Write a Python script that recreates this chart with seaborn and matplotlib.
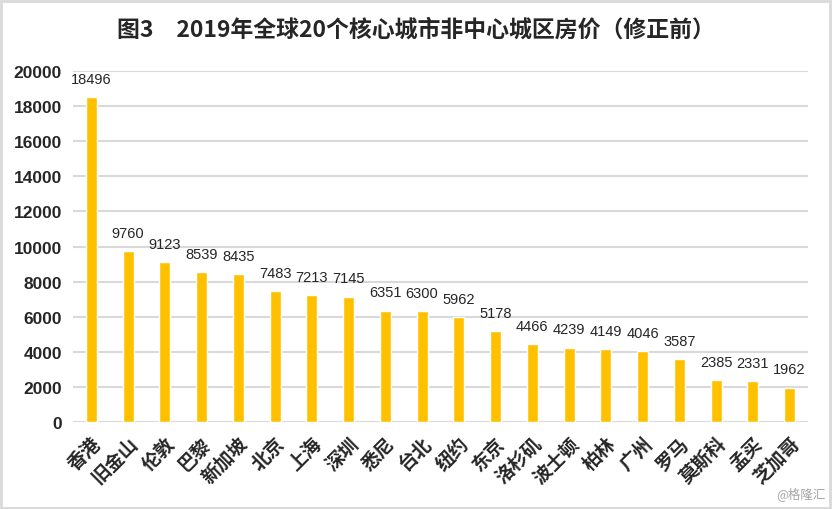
import matplotlib
matplotlib.use("Agg")
import matplotlib.pyplot as plt
import seaborn as sns
import pandas as pd
from matplotlib.patches import Rectangle

cities = ["香港", "旧金山", "伦敦", "巴黎", "新加坡", "北京", "上海", "深圳", "悉尼", "台北",
          "纽约", "东京", "洛杉矶", "波士顿", "柏林", "广州", "罗马", "莫斯科", "孟买", "芝加哥"]
prices = [18496, 9760, 9123, 8539, 8435, 7483, 7213, 7145, 6351, 6300,
          5962, 5178, 4466, 4239, 4149, 4046, 3587, 2385, 2331, 1962]
yticks = list(range(0, 20001, 2000))
title = "图3　2019年全球20个核心城市非中心城区房价（修正前）"

sns.set_theme(style="white")
plt.rcParams['font.family'] = ['Noto Sans CJK SC', 'DejaVu Sans']

df = pd.DataFrame({"city": cities, "price": prices})

fig = plt.figure(figsize=(8.32, 5.10), dpi=100)
ax = fig.add_axes([73/832, 1-423/510, (808-73)/832, (423-72)/510])

sns.barplot(data=df, x="city", y="price", color="#FFC000", width=0.3, ax=ax, saturation=1)

ax.set_ylim(0, 20000)
ax.set_xlim(-0.5, len(cities)-0.5)
ax.set_yticks(yticks)
ax.set_yticklabels([str(t) for t in yticks], fontsize=12.5, fontweight="bold",
                   family=["Liberation Sans", "DejaVu Sans"])
ax.set_xticks(range(len(cities)))
ax.set_xticklabels(cities, rotation=45, ha="right", rotation_mode="anchor",
                   fontsize=13.5, fontweight="bold")
ax.tick_params(axis="x", length=0, pad=8)
ax.tick_params(axis="y", length=0, pad=8)
ax.set_xlabel("")
ax.set_ylabel("")
for s in ax.spines.values():
    s.set_visible(False)
ax.yaxis.grid(True, color="#D9D9D9", linewidth=1.5)
ax.set_axisbelow(True)

for i, v in enumerate(prices):
    ax.annotate(str(v), (i, v), xytext=(0, 8), textcoords="offset points",
                ha="center", va="bottom", fontsize=10.5,
                family=["Liberation Sans", "DejaVu Sans"])

fig.text(0.5, 1-30/510, title, ha="center", va="center", fontsize=16.5, fontweight="bold")
fig.text(826/832, 1-494/510, "@格隆汇", ha="right", va="center", fontsize=9, color="#A6A6A6")

fig.patches.append(Rectangle((0.001, 0.002), 0.997, 0.995, transform=fig.transFigure,
                             fill=False, edgecolor="#D9D9D9", linewidth=2))

fig.savefig("out.png", dpi=100)
